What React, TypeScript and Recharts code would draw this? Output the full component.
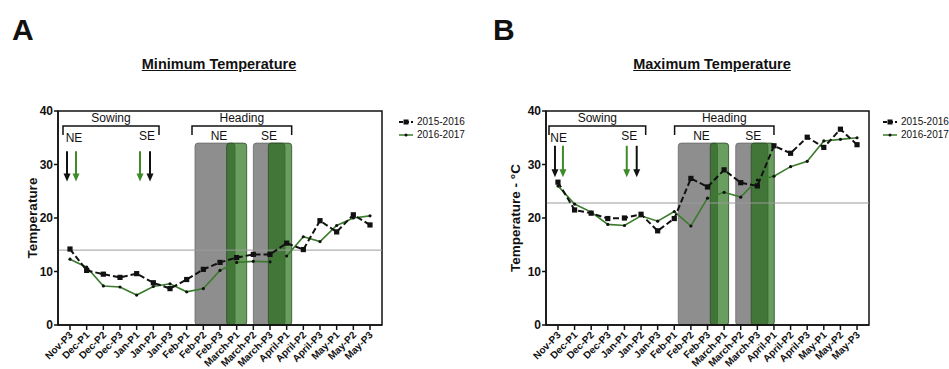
import React from "react";
import {
  LineChart,
  Line,
  XAxis,
  YAxis,
  ReferenceArea,
  ReferenceLine,
  ReferenceDot,
  Legend,
} from "recharts";

const FONT = '"Liberation Sans", Arial, Helvetica, sans-serif';
const INK = "#111";
const GREEN = "#3b7b2c";
const H = 369;
const X_DOMAIN: [number, number] = [-0.72, 18.72];

const periods = [
  "Nov-P3", "Dec-P1", "Dec-P2", "Dec-P3", "Jan-P1", "Jan-P2", "Jan-P3",
  "Feb-P1", "Feb-P2", "Feb-P3", "March-P1", "March-P2", "March-P3",
  "April-P1", "April-P2", "April-P3", "May-P1", "May-P2", "May-P3",
];

// minimum temperature
const minTemp2015 = [14.2, 10.2, 9.5, 8.9, 9.6, 7.9, 6.8, 8.5, 10.4, 11.7, 12.6, 13.2, 13.2, 15.3, 14.1, 19.5, 17.4, 20.6, 18.7];
const minTemp2016 = [12.3, 10.8, 7.3, 7.1, 5.6, 7.2, 7.7, 6.2, 6.8, 10.2, 11.7, 11.9, 11.8, 12.9, 16.5, 15.6, 18.6, 20.0, 20.4];
// maximum temperature
const maxTemp2015 = [26.7, 21.5, 20.9, 19.9, 20.0, 20.7, 17.6, 19.9, 27.4, 25.8, 29.0, 26.6, 26.0, 33.5, 32.1, 35.1, 33.2, 36.6, 33.7];
const maxTemp2016 = [26.0, 22.6, 21.1, 18.8, 18.6, 20.4, 19.4, 21.2, 18.5, 23.7, 24.8, 23.9, 27.1, 27.8, 29.6, 30.6, 34.4, 34.7, 35.0];

const minThreshold = 14;
const maxThreshold = 22.8;

// heading windows, in period-index units
const minGrayWindows = [[7.5, 9.9], [11.0, 12.9]];
const minGreenWindows = [[9.4, 10.6], [11.9, 13.3]];
const maxGrayWindows = [[7.24, 9.6], [10.7, 12.64]];
const maxGreenWindows = [[9.17, 10.27], [11.63, 13.02]];
const windowTop = 34;

// sowing arrows
const minBlackArrows = [-0.18, 4.8];
const minGreenArrows = [0.36, 4.2];
const maxBlackArrows = [-0.18, 4.74];
const maxGreenArrows = [0.3, 4.14];
const minArrowY = [32.5, 26.8];
const maxArrowY = [33.5, 27.6];

const bracketY = 37.2;
const minBrackets = [
  { label: "Sowing", x1: -0.42, x2: 5.34 },
  { label: "Heading", x1: 7.32, x2: 13.3 },
];
const maxBrackets = [
  { label: "Sowing", x1: -0.54, x2: 5.28 },
  { label: "Heading", x1: 7.02, x2: 13.0 },
];
const minZoneLabels = [
  { text: "NE", x: 0.24, y: 35 },
  { text: "SE", x: 4.62, y: 35.5 },
  { text: "NE", x: 8.94, y: 35.5 },
  { text: "SE", x: 11.94, y: 35.5 },
];
const maxZoneLabels = [
  { text: "NE", x: 0.04, y: 35 },
  { text: "SE", x: 4.29, y: 35.5 },
  { text: "NE", x: 8.64, y: 35.5 },
  { text: "SE", x: 11.76, y: 35.5 },
];

const RotatedTick = (props: any) => {
  const { x, y, payload } = props;
  return (
    <g transform={`translate(${x},${y})`}>
      <text
        x={0}
        y={0}
        dy={5}
        textAnchor="end"
        transform="rotate(-45)"
        fontSize={10}
        fontWeight="bold"
        fontFamily={FONT}
        fill={INK}
      >
        {periods[payload.value]}
      </text>
    </g>
  );
};

const squareDot = (p: any) => (
  <rect key={`sq-${p.index}`} x={p.cx - 2.6} y={p.cy - 2.6} width={5.2} height={5.2} fill={INK} />
);
const smallDot = (p: any) => (
  <circle key={`ci-${p.index}`} cx={p.cx} cy={p.cy} r={1.6} fill={INK} />
);

const bracketShape = (label: string) => (p: any) => (
  <g>
    <path
      d={`M${p.x1},${p.y1 + 9}V${p.y1}H${p.x2}V${p.y2 + 9}`}
      stroke={INK}
      strokeWidth={1.5}
      fill="none"
    />
    <text
      x={(p.x1 + p.x2) / 2}
      y={p.y1 - 3.5}
      textAnchor="middle"
      fontSize={12}
      fontFamily={FONT}
      fill={INK}
    >
      {label}
    </text>
  </g>
);

const arrowShape = (color: string) => (p: any) => (
  <g>
    <line x1={p.x1} y1={p.y1} x2={p.x2} y2={p.y2 - 6} stroke={color} strokeWidth={2} />
    <path
      d={`M${p.x2 - 3.5},${p.y2 - 8}L${p.x2 + 3.5},${p.y2 - 8}L${p.x2},${p.y2}Z`}
      fill={color}
    />
  </g>
);

const windowShape = (fill: string, opacity: number, stroke: string) => (p: any) => (
  <rect
    x={p.x}
    y={p.y}
    width={p.width}
    height={p.height}
    rx={3}
    ry={3}
    fill={fill}
    fillOpacity={opacity}
    stroke={stroke}
    strokeWidth={0.8}
  />
);

const legendStyles: Record<string, { dash?: string; dot: "square" | "circle"; width: number }> = {
  "2015-2016": { dash: "4 2", dot: "square", width: 2 },
  "2016-2017": { dot: "circle", width: 1.5 },
};
const legendOrder = ["2015-2016", "2016-2017"];

const LegendContent = (props: any) => {
  const items = [...(props.payload || [])].sort(
    (a: any, b: any) => legendOrder.indexOf(a.value) - legendOrder.indexOf(b.value)
  );
  return (
    <div style={{ fontFamily: FONT, fontSize: 10, color: INK }}>
      {items.map((entry: any) => {
        const st = legendStyles[entry.value] || { dot: "circle", width: 1.5 };
        return (
          <div key={entry.value} style={{ display: "flex", alignItems: "center", height: 13 }}>
            <svg width={16} height={8} style={{ marginRight: 3 }}>
              <line x1={1} y1={4} x2={15} y2={4} stroke={entry.color} strokeWidth={st.width} strokeDasharray={st.dash} />
              {st.dot === "square" ? (
                <rect x={5.5} y={1.5} width={5} height={5} fill={INK} />
              ) : (
                <circle cx={8} cy={4} r={1.5} fill={INK} />
              )}
            </svg>
            <span style={{ whiteSpace: "nowrap" }}>{entry.value}</span>
          </div>
        );
      })}
    </div>
  );
};

type PanelProps = {
  left: number;
  width: number;
  marginLeft: number;
  marginRight: number;
  yWidth: number;
  yLabel: string;
  s2015: number[];
  s2016: number[];
  threshold: number;
  grayWindows: number[][];
  greenWindows: number[][];
  blackArrows: number[];
  greenArrows: number[];
  arrowY: number[];
  brackets: { label: string; x1: number; x2: number }[];
  zoneLabels: { text: string; x: number; y: number }[];
  legendLeft: number;
};

const Panel = (props: PanelProps) => {
  const data = periods.map((p, i) => ({
    idx: i,
    period: p,
    y2015: props.s2015[i],
    y2016: props.s2016[i],
  }));
  const axisStroke = { stroke: INK, strokeWidth: 1.5 };
  return (
    <div style={{ position: "absolute", left: props.left, top: 0, width: props.width, height: H }}>
      <LineChart
        width={props.width}
        height={H}
        data={data}
        margin={{ top: 111, right: props.marginRight, bottom: 0, left: props.marginLeft }}
      >
        <XAxis
          dataKey="idx"
          type="number"
          domain={X_DOMAIN}
          allowDataOverflow
          ticks={periods.map((_, i) => i)}
          interval={0}
          height={44}
          tickSize={5}
          tickMargin={2}
          tick={(p: any) => <RotatedTick {...p} />}
          axisLine={axisStroke}
          tickLine={axisStroke}
        />
        <YAxis
          type="number"
          domain={[0, 40]}
          ticks={[0, 10, 20, 30, 40]}
          width={props.yWidth}
          tickSize={4}
          tickMargin={1}
          tick={{ fontSize: 12, fontWeight: "bold", fill: INK, fontFamily: FONT }}
          axisLine={axisStroke}
          tickLine={axisStroke}
          label={{
            value: props.yLabel,
            angle: -90,
            position: "center",
            fontSize: 13.5,
            fontWeight: "bold",
            fill: INK,
            fontFamily: FONT,
          }}
        />

        {props.grayWindows.map((w, i) => (
          <ReferenceArea
            key={`g${i}`}
            x1={w[0]}
            x2={w[1]}
            y1={0}
            y2={windowTop}
            shape={windowShape("#8e8e8e", 1, "#6a6a6a")}
          />
        ))}
        {props.greenWindows.map((w, i) => (
          <ReferenceArea
            key={`n${i}`}
            x1={w[0]}
            x2={w[1]}
            y1={0}
            y2={windowTop}
            shape={windowShape("#1a6a0c", 0.65, "#2c4a24")}
          />
        ))}

        <ReferenceLine y={props.threshold} stroke="#9a9a9a" strokeWidth={1} />

        <Line
          dataKey="y2016"
          name="2016-2017"
          stroke={GREEN}
          strokeWidth={1.6}
          dot={smallDot}
          activeDot={false}
          isAnimationActive={false}
        />
        <Line
          dataKey="y2015"
          name="2015-2016"
          stroke={INK}
          strokeWidth={2}
          strokeDasharray="6 3"
          dot={squareDot}
          activeDot={false}
          isAnimationActive={false}
        />

        <ReferenceArea
          x1={X_DOMAIN[0]}
          x2={X_DOMAIN[1]}
          y1={0}
          y2={40}
          fill="none"
          stroke={INK}
          strokeWidth={1.5}
          ifOverflow="visible"
        />

        {props.brackets.map((b) => (
          <ReferenceLine
            key={b.label}
            segment={[{ x: b.x1, y: bracketY }, { x: b.x2, y: bracketY }]}
            shape={bracketShape(b.label)}
            ifOverflow="visible"
          />
        ))}
        {props.blackArrows.map((x, i) => (
          <ReferenceLine
            key={`ba${i}`}
            segment={[{ x, y: props.arrowY[0] }, { x, y: props.arrowY[1] }]}
            shape={arrowShape(INK)}
            ifOverflow="visible"
          />
        ))}
        {props.greenArrows.map((x, i) => (
          <ReferenceLine
            key={`ga${i}`}
            segment={[{ x, y: props.arrowY[0] }, { x, y: props.arrowY[1] }]}
            shape={arrowShape("#3f8a2a")}
            ifOverflow="visible"
          />
        ))}
        {props.zoneLabels.map((z, i) => (
          <ReferenceDot
            key={`z${i}`}
            x={z.x}
            y={z.y}
            r={0}
            ifOverflow="visible"
            shape={(p: any) => (
              <text
                x={p.cx}
                y={p.cy + 4.5}
                textAnchor="middle"
                fontSize={12}
                fontFamily={FONT}
                fill={INK}
              >
                {z.text}
              </text>
            )}
          />
        ))}

        <Legend
          layout="vertical"
          align="center"
          verticalAlign="middle"
          content={<LegendContent />}
          wrapperStyle={{ left: props.legendLeft, top: 115, width: 90, height: 28 }}
        />
      </LineChart>
    </div>
  );
};

const heading = (left: number): React.CSSProperties => ({
  position: "absolute",
  left,
  top: 56.5,
  width: 200,
  textAlign: "center",
  fontFamily: FONT,
  fontWeight: "bold",
  fontSize: 14.5,
  lineHeight: "15px",
  textDecoration: "underline",
  color: INK,
});

const letter = (left: number): React.CSSProperties => ({
  position: "absolute",
  left,
  top: 15,
  fontFamily: FONT,
  fontWeight: "bold",
  fontSize: 30,
  lineHeight: "30px",
  color: INK,
});

export default function App() {
  return (
    <div style={{ position: "absolute", left: 0, top: 0, width: 949, height: H, background: "#fff", overflow: "hidden" }}>
      <div style={letter(12)}>A</div>
      <div style={heading(119)}>Minimum Temperature</div>
      <div style={letter(493)}>B</div>
      <div style={heading(612)}>Maximum Temperature</div>

      <Panel
        left={0}
        width={480}
        marginLeft={6}
        marginRight={98}
        yWidth={52}
        yLabel="Temperature"
        s2015={minTemp2015}
        s2016={minTemp2016}
        threshold={minThreshold}
        grayWindows={minGrayWindows}
        greenWindows={minGreenWindows}
        blackArrows={minBlackArrows}
        greenArrows={minGreenArrows}
        arrowY={minArrowY}
        brackets={minBrackets}
        zoneLabels={minZoneLabels}
        legendLeft={398}
      />
      <Panel
        left={480}
        width={469}
        marginLeft={4}
        marginRight={80}
        yWidth={62}
        yLabel="Temperature - °C"
        s2015={maxTemp2015}
        s2016={maxTemp2016}
        threshold={maxThreshold}
        grayWindows={maxGrayWindows}
        greenWindows={maxGreenWindows}
        blackArrows={maxBlackArrows}
        greenArrows={maxGreenArrows}
        arrowY={maxArrowY}
        brackets={maxBrackets}
        zoneLabels={maxZoneLabels}
        legendLeft={402}
      />
    </div>
  );
}
